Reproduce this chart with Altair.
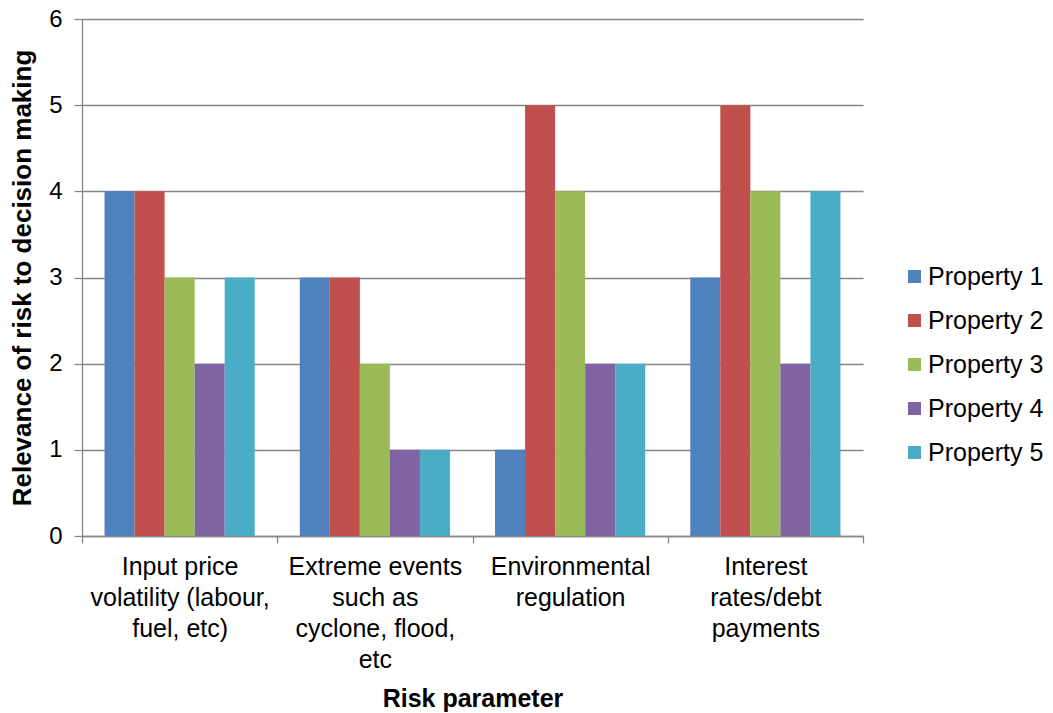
import altair as alt
import pandas as pd

# Risk parameters (line breaks mark the label wrapping) and property series
categories = [
    "Input price\nvolatility (labour,\nfuel, etc)",
    "Extreme events\nsuch as\ncyclone, flood,\netc",
    "Environmental\nregulation",
    "Interest\nrates/debt\npayments",
]
properties = ["Property 1", "Property 2", "Property 3", "Property 4", "Property 5"]
values = {
    "Property 1": [4, 3, 1, 3],
    "Property 2": [4, 3, 5, 5],
    "Property 3": [3, 2, 4, 4],
    "Property 4": [2, 1, 2, 2],
    "Property 5": [3, 1, 2, 4],
}
colors = ["#4F81BD", "#C0504D", "#9BBB59", "#8064A2", "#4BACC6"]

rows = []
for prop in properties:
    for cat, v in zip(categories, values[prop]):
        rows.append({"risk": cat, "property": prop, "value": v})
df = pd.DataFrame(rows)

font = "Liberation Sans"
grey = "#868686"

chart = (
    alt.Chart(df)
    .mark_bar()
    .encode(
        x=alt.X(
            "risk:N",
            sort=categories,
            scale=alt.Scale(paddingInner=0, paddingOuter=0),
            axis=alt.Axis(
                title="Risk parameter",
                labelAngle=0,
                labelExpr="split(datum.label, '\\n')",
                labelLineHeight=31,
                labelFontSize=25,
                labelPadding=11,
                labelColor="#000000",
                labelFont=font,
                labelLimit=300,
                tickBand="extent",
                tickSize=7,
                tickColor=grey,
                domainColor=grey,
                titleFontSize=25,
                titleFont=font,
                titleFontWeight="bold",
                titleColor="#000000",
                titlePadding=14,
            ),
        ),
        xOffset=alt.XOffset(
            "property:N",
            sort=properties,
            scale=alt.Scale(paddingInner=0, paddingOuter=0.75),
        ),
        y=alt.Y(
            "value:Q",
            scale=alt.Scale(domain=[0, 6]),
            axis=alt.Axis(
                title="Relevance of risk to decision making",
                values=[0, 1, 2, 3, 4, 5, 6],
                labelOverlap=False,
                labelFontSize=24,
                labelFont=font,
                labelColor="#000000",
                labelPadding=12,
                tickSize=8,
                tickColor=grey,
                domainColor=grey,
                gridColor=grey,
                gridWidth=1.3,
                titleFontSize=26,
                titleFont=font,
                titleFontWeight="bold",
                titleColor="#000000",
                titlePadding=13,
            ),
        ),
        color=alt.Color(
            "property:N",
            sort=properties,
            scale=alt.Scale(domain=properties, range=colors),
            legend=alt.Legend(
                title=None,
                orient="none",
                legendX=820,
                legendY=245,
                symbolType="square",
                symbolSize=170,
                symbolStrokeWidth=0,
                labelFontSize=25,
                labelFont=font,
                labelColor="#000000",
                labelOffset=1,
                rowPadding=18,
                labelLimit=200,
            ),
        ),
    )
    .properties(
        width=781,
        height=517,
        padding={"left": 82, "top": 19, "right": 190, "bottom": 177},
        autosize=alt.AutoSizeParams(type="none"),
    )
    .configure_view(stroke=None)
    .configure_axis(domainWidth=1.3, tickWidth=1.3)
)

chart.save("out.html", embed_options={"renderer": "svg", "actions": False})
